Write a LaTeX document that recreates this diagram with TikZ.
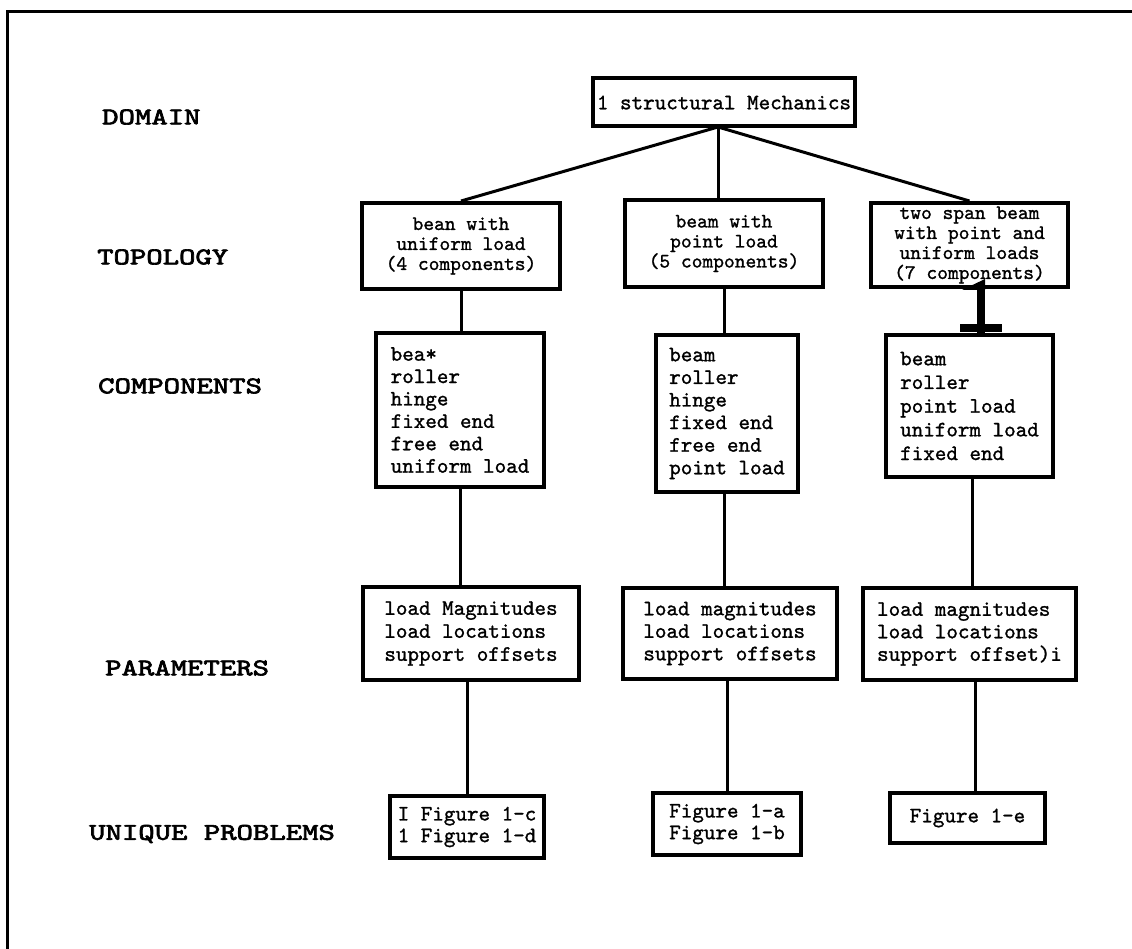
\documentclass[tikz,border=0pt]{standalone}
\usepackage{fontspec}
\newfontfamily\bodyfont{lmmono10-regular.otf}[FakeBold=1.2]
\newfontfamily\labfont{lmmono10-regular.otf}[FakeBold=2.5]
\usetikzlibrary{calc}
\begin{document}
\begin{tikzpicture}[x=1pt,y=-1pt,
  cbox/.style={draw, line width=4pt, inner sep=0pt, align=center,
    font=\bodyfont\fontsize{22}{#1}\selectfont},
  cbox/.default=19,
  tbox/.style={draw, line width=4pt, inner sep=0pt, align=center,
    font=\bodyfont\fontsize{20.5}{20}\selectfont},
  lbox/.style={cbox=#1, align=left},
  lab/.style={anchor=west, inner sep=0pt, font=\labfont\fontsize{24}{26}\selectfont},
  link/.style={line width=3pt}]
\useasboundingbox (0,0) rectangle (1132,949);
% frame
\draw[line width=3pt] (7,949) -- (7,12) -- (1132,12);
% level labels
\node[lab] (ldom) at (102,117) {\scalebox{1.3}[1]{DOMAIN}};
\node[lab] (ltop) at (97,257) {\scalebox{1.3}[1]{TOPOLOGY}};
\node[lab] (lcom) at (98,386) {\scalebox{1.3}[1]{COMPONENTS}};
\node[lab] (lpar) at (105,668) {\scalebox{1.3}[1]{PARAMETERS}};
\node[lab] (luni) at (89,834) {\scalebox{1.3}[1]{UNIQUE PROBLEMS}};
% domain
\node[cbox, minimum width=262pt, minimum height=48pt] (dom) at (724,102.5) {1 structural Mechanics};
% topology
\node[tbox, minimum width=198pt, minimum height=86pt] (t1) at (461,246) {bean with\\uniform load\\(4 components)};
\node[tbox, minimum width=198pt, minimum height=87pt] (t2) at (724,243.5) {beam with\\point load\\(5 components)};
\node[tbox, minimum width=197pt, minimum height=84pt] (t3) at (969.5,245) {two span beam\\with point and\\uniform loads\\(7 components)};
% components
\node[lbox=22.4, minimum width=168pt, minimum height=154pt] (c1) at (460,410) {bea*\\roller\\hinge\\fixed end\\free end\\uniform load};
\node[lbox=22.6, minimum width=142pt, minimum height=157pt] (c2) at (727,413.5) {beam\\roller\\hinge\\fixed end\\free end\\point load};
\node[lbox=23.7, minimum width=167pt, minimum height=142pt] (c3) at (969.5,406) {beam\\roller\\point load\\uniform load\\fixed end};
% parameters
\node[lbox=23, minimum width=216pt, minimum height=93pt] (p1) at (471,633.5) {load Magnitudes\\load locations\\support offsets};
\node[lbox=22.5, minimum width=214pt, minimum height=91pt] (p2) at (730,633.5) {load magnitudes\\load locations\\support offsets};
\node[lbox=22.5, minimum width=213pt, minimum height=92pt] (p3) at (969.5,634) {load magnitudes\\load locations\\support offset)\textit{i}};
% unique problems
\node[lbox=21.7, minimum width=154pt, minimum height=62pt] (u1) at (467,827) {I Figure 1-c\\1 Figure 1-d};
\node[lbox=21.7, minimum width=148pt, minimum height=62pt] (u2) at (727,824) {Figure 1-a\\Figure 1-b};
\node[cbox, minimum width=155pt, minimum height=50pt] (u3) at (967.5,818) {Figure 1-e};
% connectors
\coordinate (apex) at (718,127);
\draw[link] (apex) -- (t1.north);
\draw[link] (apex) -- (apex |- t2.north);
\draw[link] (apex) -- (t3.north);
\draw[link] (t1.south) -- (t1.south |- c1.north);
\draw[link] (c1.south) -- (c1.south |- p1.north);
\draw[link] (u1.north |- p1.south) -- (u1.north);
\draw[link] (t2.south) -- (t2.south |- c2.north);
\draw[link] (t2.south |- c2.south) -- (t2.south |- p2.north);
\draw[link] (u2.north |- p2.south) -- (u2.north);
% heavy T connector
\coordinate (tj) at (981,0);
\draw[line width=8pt] (t3.south -| tj) -- (c3.north -| tj);
\fill ($(c3.north -| tj)+(-21,-1)$) rectangle ($(c3.north -| tj)+(21,-9)$);
\fill ($(t3.south -| tj)+(-19,1)$) -- ($(t3.south -| tj)+(4,-10)$) -- ($(t3.south -| tj)+(4,1)$) -- cycle;
\coordinate (cj) at (972,0);
\coordinate (uj) at (975,0);
\draw[link] (c3.south -| cj) -- (p3.north -| cj);
\draw[link] (p3.south -| uj) -- (u3.north -| uj);
\end{tikzpicture}
\end{document}
